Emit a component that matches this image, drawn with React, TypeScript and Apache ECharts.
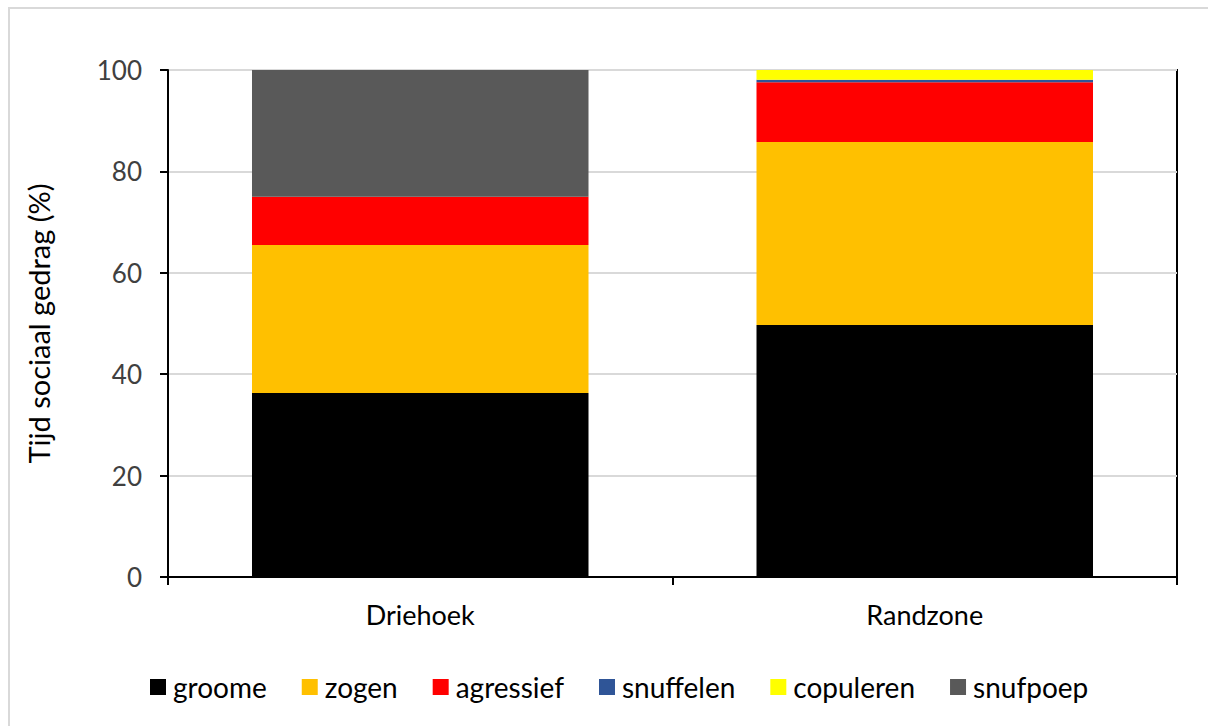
import React, { useEffect, useRef } from "react";
import * as echarts from "echarts";

const categories = ["Driehoek", "Randzone"];
const seriesNames = ["groome", "zogen", "agressief", "snuffelen", "copuleren", "snufpoep"];
const groome = [36.3, 49.7];
const zogen = [29.2, 36.1];
const agressief = [9.5, 11.8];
const snuffelen = [0, 0.5];
const copuleren = [0, 1.9];
const snufpoep = [25.0, 0];
const yTicks = [0, 20, 40, 60, 80, 100];
const colors = ["#000000", "#FFC000", "#FF0000", "#2F5597", "#FFFF00", "#595959"];

const FONT = "Lato";

export default function App() {
  const ref = useRef<HTMLDivElement>(null);
  useEffect(() => {
    if (!ref.current) return;
    const chart = echarts.init(ref.current, null, { renderer: "svg" });
    const values = [groome, zogen, agressief, snuffelen, copuleren, snufpoep];
    chart.setOption({
      animation: false,
      backgroundColor: "#ffffff",
      textStyle: { fontFamily: FONT },
      graphic: [
        {
          type: "rect",
          shape: { x: 9, y: 8, width: 1400, height: 900 },
          style: { fill: "none", stroke: "#d9d9d9", lineWidth: 2 },
          silent: true,
        },
      ],
      grid: {
        left: 168,
        right: 31,
        top: 70,
        bottom: 149,
        show: true,
        borderColor: "#000000",
        borderWidth: 2,
        containLabel: false,
      },
      legend: {
        left: 145,
        top: 668,
        itemWidth: 16,
        itemHeight: 16,
        itemGap: 35,
        icon: "rect",
        data: seriesNames,
        textStyle: { fontFamily: FONT, fontSize: 28, color: "#000000", padding: [0, 0, 0, 2] },
      },
      xAxis: {
        type: "category",
        data: categories,
        axisLine: { lineStyle: { color: "#000000", width: 2 } },
        axisTick: { show: true, length: 8, lineStyle: { color: "#000000", width: 2 } },
        axisLabel: { fontFamily: FONT, fontSize: 27, color: "#000000", margin: 24 },
      },
      yAxis: {
        type: "value",
        min: 0,
        max: 100,
        interval: 20,
        name: "Tijd sociaal gedrag (%)",
        nameLocation: "middle",
        nameRotate: 90,
        nameGap: 115,
        nameTextStyle: { fontFamily: FONT, fontSize: 29, color: "#000000" },
        axisLine: { show: true, lineStyle: { color: "#000000", width: 2 } },
        axisTick: { show: true, length: 8, lineStyle: { color: "#000000", width: 2 } },
        axisLabel: {
          fontFamily: FONT,
          fontSize: 26,
          color: "#404040",
          margin: 26,
          formatter: (v: number) => (yTicks.includes(v) ? String(v) : ""),
        },
        splitLine: { show: true, lineStyle: { color: "#d9d9d9", width: 2 } },
      },
      series: seriesNames.map((name, i) => ({
        name,
        type: "bar",
        stack: "total",
        data: values[i],
        barCategoryGap: "33.3%",
        itemStyle: { color: colors[i] },
      })),
    });
    return () => chart.dispose();
  }, []);
  return (
    <div
      ref={ref}
      style={{ position: "fixed", left: 0, top: 0, width: 1208, height: 726, background: "#fff" }}
    />
  );
}
